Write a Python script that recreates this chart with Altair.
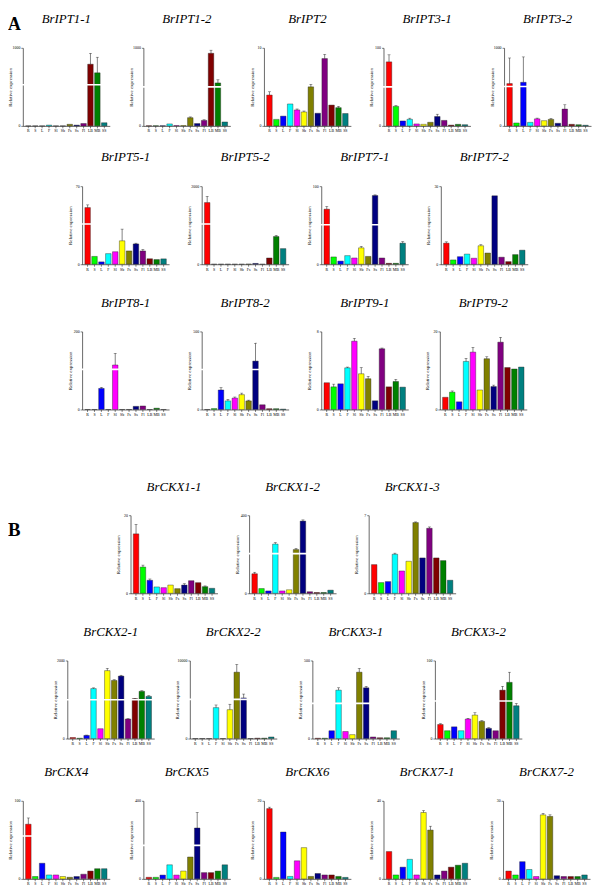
import altair as alt
import pandas as pd

categories = ["R", "S", "L", "F", "Sl", "Sb", "Fs", "Ss", "Fl", "LB", "MB", "SS"]
colors = ["#FF0000", "#00FF00", "#0000FF", "#00FFFF", "#FF00FF", "#FFFF00",
          "#808000", "#000080", "#800080", "#800000", "#008000", "#008080"]

# ---- Section A: BrIPT genes ----
ipt1_1 = [0, 0, 0, 10, 0, 0, 20, 10, 30, 790, 680, 40]
ipt1_1_err = [0, 0, 0, 0, 0, 0, 0, 0, 0, 140, 200, 0]
ipt1_2 = [2, 2, 2, 25, 5, 5, 105, 30, 70, 930, 550, 50]
ipt1_2_err = [0, 0, 0, 0, 0, 0, 10, 0, 8, 40, 40, 0]
ipt2 = [4.74, 1.0, 1.5, 3.37, 2.45, 2.14, 6.0, 1.94, 10.35, 3.2, 2.8, 1.9]
ipt2_err = [0.5, 0, 0, 0, 0.15, 0.15, 0.4, 0, 0.65, 0, 0.2, 0]
ipt3_1 = [82, 25, 6.3, 8.4, 2.5, 2, 4.6, 12, 7, 1, 2, 1.5]
ipt3_1_err = [9, 1, 0, 1.5, 0, 0, 0, 3, 0, 0, 0, 0]
ipt3_2 = [650, 45, 670, 54, 108, 80, 100, 40, 258, 24, 18, 10]
ipt3_2_err = [394, 0, 390, 0, 12, 0, 14, 0, 66, 0, 0, 0]
ipt5_1 = [50.8, 7, 2.1, 9.5, 11.2, 21, 11.9, 18.2, 11.9, 4.9, 4.2, 4.8]
ipt5_1_err = [2.4, 0, 0, 0, 0, 10.5, 0, 0.7, 1.4, 0, 0, 0]
ipt5_2 = [1264, 0, 0, 0, 0, 0, 3, 16, 0, 128, 568, 320]
ipt5_2_err = [128, 0, 0, 0, 0, 0, 0, 0, 0, 0, 24, 0]
ipt7_1 = [84.6, 11.2, 4.8, 13.2, 9.6, 25.2, 12, 105.6, 9.6, 1.4, 1.4, 32.4]
ipt7_1_err = [4.2, 0, 0, 0, 0, 2.4, 0, 1, 0, 0, 0, 2.4]
ipt7_2 = [8.1, 1.65, 2.9, 3.9, 2.3, 7.1, 4.3, 26.3, 2.7, 1.0, 3.7, 5.4]
ipt7_2_err = [0.5, 0, 0, 0, 0, 0.4, 0, 0, 0, 0, 0, 0]
ipt8_1 = [0, 0, 40.5, 0, 85.5, 0, 0, 6, 6.75, 0, 2.5, 0]
ipt8_1_err = [0, 0, 2, 0, 22.5, 0, 0, 0, 0, 0, 0, 0]
ipt8_2 = [0, 6, 125, 55, 73, 95, 55, 310, 30, 5, 5, 2.5]
ipt8_2_err = [0, 0, 15, 10, 7, 10, 5, 115, 0, 0, 0, 0]
ipt9_1 = [2.74, 2.32, 2.63, 4.27, 7.0, 3.66, 3.15, 0.89, 6.22, 2.32, 2.87, 2.29]
ipt9_1_err = [0, 0.28, 0, 0.08, 0.3, 0.64, 0.25, 0, 0.08, 0, 0.23, 0]
ipt9_2 = [2.5, 3.55, 1.57, 9.85, 11.76, 4.0, 10.4, 4.7, 13.8, 8.6, 8.3, 8.7]
ipt9_2_err = [0, 0.25, 0, 0.65, 1.0, 0, 0.4, 0.3, 1.0, 0, 0, 0]

# ---- Section B: BrCKX genes ----
ckx1_1 = [13.7, 6.05, 3.0, 1.46, 1.3, 1.9, 1.07, 1.9, 2.9, 2.45, 1.53, 1.15]
ckx1_1_err = [2.2, 0.45, 0.3, 0, 0, 0, 0, 0.3, 0, 0, 0.17, 0]
ckx1_2 = [100, 24, 12, 252, 12, 18, 224, 370, 8, 4, 4, 16]
ckx1_2_err = [8, 0, 0, 8, 0, 0, 6, 6, 0, 0, 0, 0]
ckx1_3 = [2.57, 0.96, 1.05, 3.5, 2.0, 2.87, 6.34, 3.17, 5.83, 3.17, 2.93, 1.17]
ckx1_3_err = [0, 0, 0, 0.1, 0, 0, 0.06, 0, 0.12, 0, 0, 0]
ckx2_1 = [29, 9, 88, 1408, 277, 1914, 1637, 1760, 550, 1122, 1331, 1188]
ckx2_1_err = [0, 0, 10, 20, 0, 66, 20, 25, 10, 10, 15, 20]
ckx2_2 = [0, 0, 0, 3960, 0, 3700, 8500, 5200, 0, 50, 50, 200]
ckx2_2_err = [0, 0, 0, 340, 0, 700, 1000, 500, 0, 0, 0, 0]
ckx3_1 = [2, 2, 50, 310, 45, 25, 425, 325, 10, 5, 5, 50]
ckx3_1_err = [0, 0, 0, 15, 0, 0, 25, 10, 0, 0, 0, 0]
ckx3_2 = [18, 10, 15, 10, 25, 30, 22, 13, 10, 62, 72, 42]
ckx3_2_err = [1, 0, 0, 0, 1, 3, 1, 1, 0, 5, 13, 3]
ckx4 = [70, 3, 20, 5, 5, 3, 2, 3, 6, 10, 13, 13]
ckx4_err = [8, 0, 0, 0, 0, 0, 0, 0, 0, 0, 0, 0]
ckx5 = [7, 7, 17, 63, 17, 35, 98, 228, 28, 28, 35, 63]
ckx5_err = [0, 0, 0, 0, 0, 0, 0, 70, 0, 0, 0, 0]
ckx6 = [14.4, 0.3, 9.6, 0.5, 3.7, 6.4, 0.5, 1.1, 0.8, 0.8, 0.5, 0.3]
ckx6_err = [0.3, 0, 0, 0, 0, 0, 0, 0, 0, 0, 0, 0]
ckx7_1 = [14, 2, 6, 10, 2, 34, 25, 2, 4, 6, 7, 8]
ckx7_1_err = [0, 0, 0, 0, 0, 1, 2, 0, 0, 0, 0, 0]
ckx7_2 = [3, 1.5, 6.6, 3.6, 0.9, 24.6, 24, 1.2, 0.9, 0.9, 0.9, 1.5]
ckx7_2_err = [0, 0, 0, 0, 0, 0.6, 0.6, 0, 0, 0, 0, 0]

W = 88
H = 79
SERIF = "Liberation Serif"


def panel(name, vals, errs, ymax, step, brk=None, letter=None):
    df = pd.DataFrame({"cat": categories, "val": vals,
                       "err": errs,
                       "top": [v + e for v, e in zip(vals, errs)]})
    ticks = []
    t = 0
    while t <= ymax + 1e-9:
        ticks.append(round(t, 6))
        t += step
    x = alt.X("cat:N", sort=categories, title=None,
              scale=alt.Scale(paddingInner=0.2, paddingOuter=0.4),
              axis=alt.Axis(labelFontSize=4, labelAngle=0, tickSize=2,
                            labelPadding=1, minExtent=8, maxExtent=8))
    y = alt.Y("val:Q", scale=alt.Scale(domain=[0, ymax], nice=False, zero=True),
              title="Relative expression",
              axis=alt.Axis(values=ticks, format="~r", labelFontSize=4, tickSize=2,
                            labelPadding=1, titleFontSize=5, titlePadding=1,
                            titleFontWeight="normal", minExtent=9, maxExtent=9))
    base = alt.Chart(df)
    bars = base.mark_bar(stroke="#222222", strokeWidth=0.4).encode(
        x=x, y=y,
        color=alt.Color("cat:N", sort=categories,
                        scale=alt.Scale(domain=categories, range=colors),
                        legend=None))
    ebase = base.transform_filter("datum.err > 0")
    erule = ebase.mark_rule(color="black", strokeWidth=0.5).encode(
        x=alt.X("cat:N", sort=categories), y="val:Q", y2="top:Q")
    ecap = ebase.mark_tick(color="black", thickness=0.5, size=3).encode(
        x=alt.X("cat:N", sort=categories), y="top:Q")
    layers = [bars, erule, ecap]
    if brk is not None:
        bdf = pd.DataFrame({"b": [brk]})
        layers.append(alt.Chart(bdf).mark_rule(color="white", strokeWidth=1.6).encode(
            y="b:Q", x=alt.value(-2), x2=alt.value(W)))
    if letter is not None:
        # panel title and section letter drawn as text so that they share a row
        layers.append(alt.Chart(pd.DataFrame({"t": [name]})).mark_text(
            font=SERIF, fontSize=13, fontStyle="italic", align="center",
            baseline="middle", color="black").encode(
            text="t:N", x=alt.value(W / 2), y=alt.value(-29)))
        layers.append(alt.Chart(pd.DataFrame({"t": [letter]})).mark_text(
            font=SERIF, fontSize=18, fontWeight="bold", align="left",
            baseline="alphabetic", color="black").encode(
            text="t:N", x=alt.value(-15), y=alt.value(-18)))
        return alt.layer(*layers).properties(width=W, height=H)
    return alt.layer(*layers).properties(
        width=W, height=H,
        title=alt.TitleParams(name, font=SERIF, fontStyle="italic",
                              fontWeight="normal", fontSize=13, offset=20,
                              color="black"))


def hspace(w, letter=None):
    c = alt.Chart(pd.DataFrame({"t": [letter or ""]}))
    if letter:
        return c.mark_text(font=SERIF, fontSize=19, fontWeight="bold",
                           align="left", baseline="middle", color="black").encode(
            text="t:N", x=alt.value(-15), y=alt.value(15)).properties(width=w, height=H)
    return c.mark_point(size=0, opacity=0).encode(
        x=alt.value(0), y=alt.value(0)).properties(width=w, height=H)


def vspace(h):
    return alt.Chart(pd.DataFrame({"t": [0]})).mark_point(size=0, opacity=0).encode(
        x=alt.value(0), y=alt.value(0)).properties(width=1, height=h)


rowA1 = alt.hconcat(
    panel("BrIPT1-1", ipt1_1, ipt1_1_err, 1000, 50, 526, letter="A"),
    panel("BrIPT1-2", ipt1_2, ipt1_2_err, 1000, 50, 500),
    panel("BrIPT2", ipt2, ipt2_err, 12, 2),
    panel("BrIPT3-1", ipt3_1, ipt3_1_err, 100, 5, 50),
    panel("BrIPT3-2", ipt3_2, ipt3_2_err, 1200, 50, 605),
    spacing=18)

rowA2 = alt.hconcat(
    hspace(28),
    panel("BrIPT5-1", ipt5_1, ipt5_1_err, 70, 10, 36),
    panel("BrIPT5-2", ipt5_2, ipt5_2_err, 1600, 100, 824),
    panel("BrIPT7-1", ipt7_1, ipt7_1_err, 120, 10, 60.7),
    panel("BrIPT7-2", ipt7_2, ipt7_2_err, 30, 5),
    spacing=17)

rowA3 = alt.hconcat(
    hspace(28),
    panel("BrIPT8-1", ipt8_1, ipt8_1_err, 150, 10, 77),
    panel("BrIPT8-2", ipt8_2, ipt8_2_err, 500, 25, 256),
    panel("BrIPT9-1", ipt9_1, ipt9_1_err, 8, 1),
    panel("BrIPT9-2", ipt9_2, ipt9_2_err, 16, 2),
    spacing=17)

rowB1 = alt.hconcat(
    hspace(77, letter="B"),
    panel("BrCKX1-1", ckx1_1, ckx1_1_err, 18, 2),
    panel("BrCKX1-2", ckx1_2, ckx1_2_err, 400, 20, 203),
    panel("BrCKX1-3", ckx1_3, ckx1_3_err, 7, 1),
    spacing=17)

rowB2 = alt.hconcat(
    hspace(10),
    panel("BrCKX2-1", ckx2_1, ckx2_1_err, 2200, 100, 1091),
    panel("BrCKX2-2", ckx2_2, ckx2_2_err, 10000, 500, 5020),
    panel("BrCKX3-1", ckx3_1, ckx3_1_err, 500, 25, 225),
    panel("BrCKX3-2", ckx3_2, ckx3_2_err, 100, 5, 48),
    spacing=20)

rowB3 = alt.hconcat(
    panel("BrCKX4", ckx4, ckx4_err, 100, 5, 55),
    panel("BrCKX5", ckx5, ckx5_err, 350, 25, 150),
    panel("BrCKX6", ckx6, ckx6_err, 16, 2),
    panel("BrCKX7-1", ckx7_1, ckx7_1_err, 40, 5),
    panel("BrCKX7-2", ckx7_2, ckx7_2_err, 30, 5),
    spacing=18)

chart = alt.vconcat(
    rowA1, vspace(18), rowA2, vspace(25), rowA3, vspace(64),
    rowB1, vspace(25), rowB2, vspace(20), rowB3,
    spacing=0, padding=0
).configure_view(stroke=None).configure_axis(
    grid=False, domainColor="black", tickColor="black", labelColor="black",
    titleColor="black", labelFont=SERIF, titleFont=SERIF,
    domainWidth=0.6, tickWidth=0.5
)

chart.save("out.html", embed_options={"renderer": "svg", "actions": False})
